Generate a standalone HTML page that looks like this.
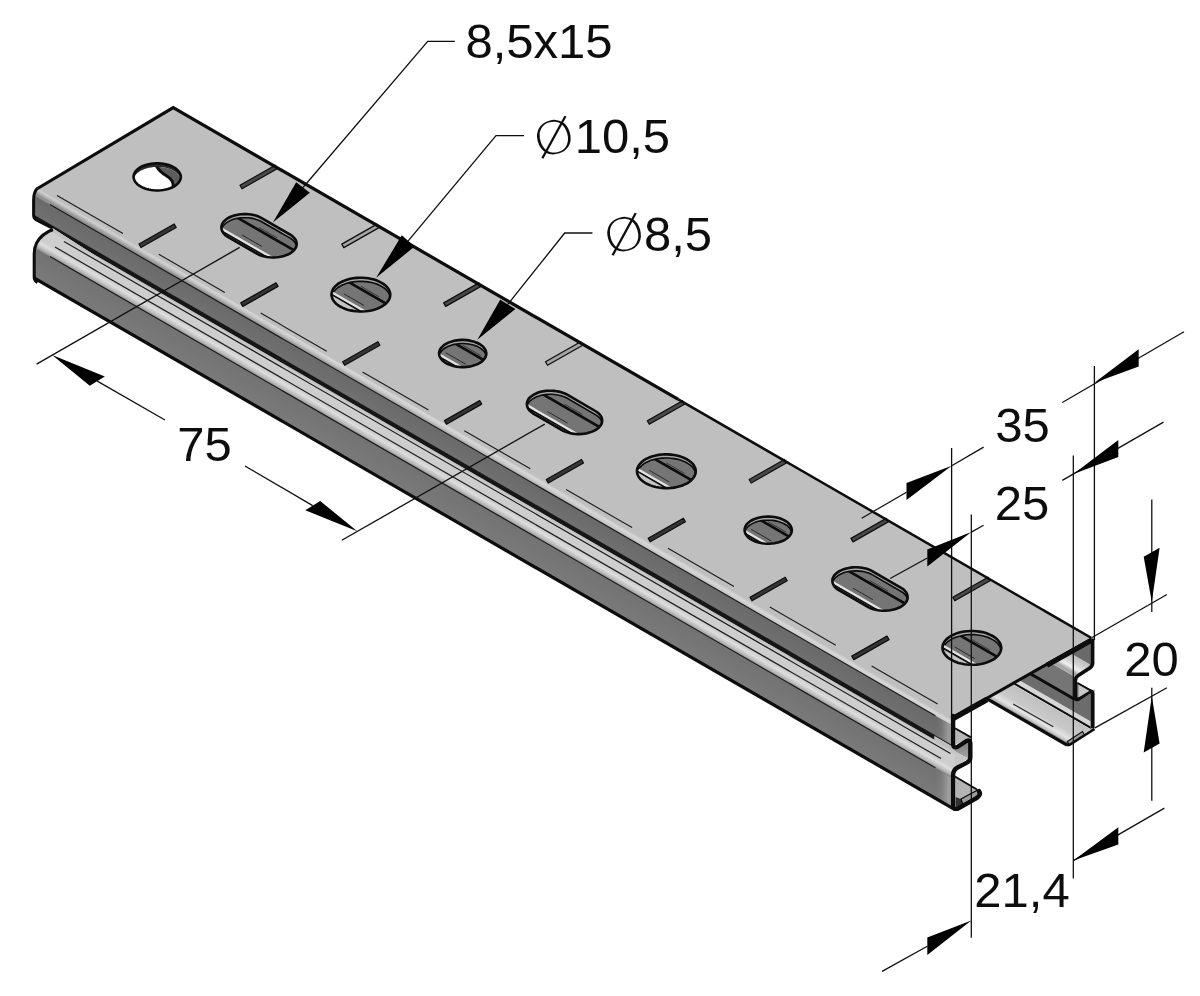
<!DOCTYPE html>
<html lang="de"><head><meta charset="utf-8"><title>Profilschiene 35x20</title>
<style>
html,body{margin:0;padding:0;background:#fff}
svg{display:block}
text{font-family:"Liberation Sans",sans-serif;fill:#111}
.dia{font-family:"DejaVu Sans","Liberation Sans",sans-serif;font-weight:200}
</style></head><body>
<svg width="1200" height="996" viewBox="0 0 1200 996">
<defs>
<filter id="soft" x="0" y="0" width="1200" height="996" filterUnits="userSpaceOnUse"><feGaussianBlur stdDeviation="0.55"/></filter>
<linearGradient id="glip" gradientUnits="userSpaceOnUse" x1="1091" y1="729.5" x2="1079.1" y2="750.2"><stop offset="0" stop-color="#c0c0c0"/><stop offset="0.55" stop-color="#c9c9c9"/><stop offset="0.8" stop-color="#e4e4e4"/><stop offset="0.93" stop-color="#c4c4c4"/><stop offset="1" stop-color="#8a8a8a"/></linearGradient>
<linearGradient id="gfl" gradientUnits="userSpaceOnUse" x1="1091" y1="665" x2="1083.4" y2="678.2"><stop offset="0" stop-color="#bdbdbd"/><stop offset="0.45" stop-color="#d4d4d4"/><stop offset="0.75" stop-color="#f0f0f0"/><stop offset="1" stop-color="#a8a8a8"/></linearGradient>
<clipPath id="cf"><path d="M37 188 C34.5 191 33.2 195 33.2 200 L33.2 215 C33.2 217.5 34.5 218.7 36 219.5 L50 226.6 L52 229.7 C46 232 40 236 36 243 C34.2 246.5 33.6 250 33.6 254 L33.6 277 C33.6 279.5 34.8 281 36.5 282 L952 810.8 L955 810.8 L955 714.8 Z"/></clipPath>
<linearGradient id="g1" gradientUnits="userSpaceOnUse" x1="400" y1="396.1" x2="395.2" y2="404.3"><stop offset="0" stop-color="#bfbfbf"/><stop offset="0.3" stop-color="#d8d8d8"/><stop offset="0.6" stop-color="#c8c8c8"/><stop offset="1" stop-color="#909090"/></linearGradient>
<linearGradient id="g2" gradientUnits="userSpaceOnUse" x1="400" y1="406.6" x2="391.3" y2="421.6"><stop offset="0" stop-color="#6a6a6a"/><stop offset="1" stop-color="#707070"/></linearGradient>
<linearGradient id="g3" gradientUnits="userSpaceOnUse" x1="400" y1="431.1" x2="392.9" y2="443.4"><stop offset="0" stop-color="#bdbdbd"/><stop offset="0.2" stop-color="#cfcfcf"/><stop offset="1" stop-color="#cdcdcd"/></linearGradient>
<linearGradient id="g4" gradientUnits="userSpaceOnUse" x1="400" y1="447.1" x2="394.8" y2="456.1"><stop offset="0" stop-color="#cbcbcb"/><stop offset="0.35" stop-color="#dedede"/><stop offset="0.7" stop-color="#bdbdbd"/><stop offset="1" stop-color="#8a8a8a"/></linearGradient>
<linearGradient id="g5" gradientUnits="userSpaceOnUse" x1="400" y1="458.6" x2="386.8" y2="481.4"><stop offset="0" stop-color="#727272"/><stop offset="1" stop-color="#7a7a7a"/></linearGradient>
<linearGradient id="geh" gradientUnits="userSpaceOnUse" x1="936" y1="0" x2="953" y2="0"><stop offset="0" stop-color="#b8b8b8" stop-opacity="0"/><stop offset="0.3" stop-color="#b8b8b8" stop-opacity="0.1"/><stop offset="0.7" stop-color="#b8b8b8" stop-opacity="0.55"/><stop offset="1" stop-color="#b4b4b4" stop-opacity="0.8"/></linearGradient>
<clipPath id="ho0"><path d="M173.9 186.6 L175.6 185.5 L177 184.4 L178.2 183.1 L179.2 181.8 L180 180.5 L180.5 179.1 L180.8 177.7 L180.8 176.3 L180.5 174.8 L180 173.5 L179.2 172.1 L178.2 170.8 L177 169.6 L175.5 168.4 L173.9 167.3 L172.1 166.4 L170.1 165.5 L167.9 164.8 L165.7 164.2 L163.3 163.8 L160.9 163.5 L158.4 163.3 L156 163.3 L153.5 163.5 L151.1 163.8 L148.7 164.2 L146.5 164.8 L144.3 165.5 L142.3 166.3 L140.5 167.2 L138.8 168.3 L137.4 169.4 L136.2 170.7 L135.2 172 L134.4 173.3 L133.9 174.7 L133.6 176.1 L133.6 177.5 L133.9 179 L134.4 180.3 L135.2 181.7 L136.2 183 L137.4 184.2 L138.9 185.4 L140.5 186.5 L142.3 187.4 L144.3 188.3 L146.5 189 L148.7 189.6 L151.1 190 L153.5 190.3 L156 190.5 L158.4 190.5 L160.9 190.3 L163.3 190 L165.7 189.6 L167.9 189 L170.1 188.3 L172.1 187.5Z"/></clipPath>
<clipPath id="hi0"><path d="M173.9 190.2 L175.6 189.1 L177 188 L178.2 186.7 L179.2 185.4 L180 184.1 L180.5 182.7 L180.8 181.3 L180.8 179.9 L180.5 178.4 L180 177.1 L179.2 175.7 L178.2 174.4 L177 173.2 L175.5 172 L173.9 170.9 L172.1 170 L170.1 169.1 L167.9 168.4 L165.7 167.8 L163.3 167.4 L160.9 167.1 L158.4 166.9 L156 166.9 L153.5 167.1 L151.1 167.4 L148.7 167.8 L146.5 168.4 L144.3 169.1 L142.3 169.9 L140.5 170.8 L138.8 171.9 L137.4 173 L136.2 174.3 L135.2 175.6 L134.4 176.9 L133.9 178.3 L133.6 179.7 L133.6 181.1 L133.9 182.6 L134.4 183.9 L135.2 185.3 L136.2 186.6 L137.4 187.8 L138.9 189 L140.5 190.1 L142.3 191 L144.3 191.9 L146.5 192.6 L148.7 193.2 L151.1 193.6 L153.5 193.9 L156 194.1 L158.4 194.1 L160.9 193.9 L163.3 193.6 L165.7 193.2 L167.9 192.6 L170.1 191.9 L172.1 191.1Z"/></clipPath>
<clipPath id="ho1"><path d="M256.4 253.4 L258.2 254.4 L260.2 255.2 L262.4 256 L264.6 256.5 L267 257 L269.4 257.3 L271.9 257.5 L274.3 257.5 L276.8 257.3 L279.2 257 L281.6 256.6 L283.8 256 L285.9 255.3 L287.9 254.5 L289.8 253.6 L291.4 252.5 L292.9 251.4 L294.1 250.1 L295.1 248.8 L295.9 247.5 L296.4 246.1 L296.7 244.7 L296.7 243.3 L296.4 241.8 L295.9 240.4 L295.1 239.1 L294.1 237.8 L292.9 236.6 L291.4 235.4 L289.8 234.3 L261.7 218.1 L259.8 217.1 L257.8 216.3 L255.7 215.6 L253.4 215 L251.1 214.5 L248.7 214.2 L246.2 214.1 L243.7 214.1 L241.3 214.2 L238.9 214.5 L236.5 214.9 L234.3 215.5 L232.1 216.2 L230.1 217 L228.3 218 L226.6 219 L225.2 220.2 L223.9 221.4 L222.9 222.7 L222.2 224.1 L221.7 225.4 L221.4 226.9 L221.4 228.3 L221.7 229.7 L222.2 231.1 L222.9 232.4 L223.9 233.7 L225.2 235 L226.6 236.1 L228.3 237.2Z"/></clipPath>
<clipPath id="hi1"><path d="M256.4 257 L258.2 258 L260.2 258.8 L262.4 259.6 L264.6 260.1 L267 260.6 L269.4 260.9 L271.9 261.1 L274.3 261.1 L276.8 260.9 L279.2 260.6 L281.6 260.2 L283.8 259.6 L285.9 258.9 L287.9 258.1 L289.8 257.2 L291.4 256.1 L292.9 255 L294.1 253.7 L295.1 252.4 L295.9 251.1 L296.4 249.7 L296.7 248.3 L296.7 246.9 L296.4 245.4 L295.9 244 L295.1 242.7 L294.1 241.4 L292.9 240.2 L291.4 239 L289.8 237.9 L261.7 221.7 L259.8 220.7 L257.8 219.9 L255.7 219.2 L253.4 218.6 L251.1 218.1 L248.7 217.8 L246.2 217.7 L243.7 217.7 L241.3 217.8 L238.9 218.1 L236.5 218.5 L234.3 219.1 L232.1 219.8 L230.1 220.6 L228.3 221.6 L226.6 222.6 L225.2 223.8 L223.9 225 L222.9 226.3 L222.2 227.7 L221.7 229 L221.4 230.5 L221.4 231.9 L221.7 233.3 L222.2 234.7 L222.9 236 L223.9 237.3 L225.2 238.6 L226.6 239.7 L228.3 240.8Z"/></clipPath>
<clipPath id="ho2"><path d="M381.6 306.7 L383.7 305.3 L385.5 303.9 L387 302.4 L388.3 300.8 L389.2 299.1 L389.9 297.4 L390.2 295.6 L390.2 293.8 L389.9 292.1 L389.2 290.4 L388.3 288.7 L387 287.1 L385.5 285.5 L383.7 284.1 L381.6 282.8 L379.3 281.6 L376.8 280.5 L374.2 279.6 L371.4 278.9 L368.4 278.3 L365.4 278 L362.4 277.8 L359.3 277.8 L356.3 277.9 L353.2 278.3 L350.3 278.8 L347.5 279.5 L344.9 280.4 L342.4 281.5 L340.1 282.6 L338 283.9 L336.2 285.4 L334.7 286.9 L333.4 288.5 L332.5 290.2 L331.9 291.9 L331.5 293.7 L331.5 295.4 L331.9 297.2 L332.5 298.9 L333.4 300.6 L334.7 302.2 L336.2 303.8 L338 305.2 L340.1 306.5 L342.4 307.7 L344.9 308.8 L347.5 309.7 L350.3 310.4 L353.3 310.9 L356.3 311.3 L359.3 311.5 L362.4 311.5 L365.5 311.3 L368.5 311 L371.4 310.4 L374.2 309.7 L376.9 308.9 L379.3 307.8Z"/></clipPath>
<clipPath id="hi2"><path d="M381.6 310.3 L383.7 308.9 L385.5 307.5 L387 306 L388.3 304.4 L389.2 302.7 L389.9 301 L390.2 299.2 L390.2 297.4 L389.9 295.7 L389.2 294 L388.3 292.3 L387 290.7 L385.5 289.1 L383.7 287.7 L381.6 286.4 L379.3 285.2 L376.8 284.1 L374.2 283.2 L371.4 282.5 L368.4 281.9 L365.4 281.6 L362.4 281.4 L359.3 281.4 L356.3 281.5 L353.2 281.9 L350.3 282.4 L347.5 283.1 L344.9 284 L342.4 285.1 L340.1 286.2 L338 287.5 L336.2 289 L334.7 290.5 L333.4 292.1 L332.5 293.8 L331.9 295.5 L331.5 297.3 L331.5 299 L331.9 300.8 L332.5 302.5 L333.4 304.2 L334.7 305.8 L336.2 307.4 L338 308.8 L340.1 310.1 L342.4 311.3 L344.9 312.4 L347.5 313.3 L350.3 314 L353.3 314.5 L356.3 314.9 L359.3 315.1 L362.4 315.1 L365.5 314.9 L368.5 314.6 L371.4 314 L374.2 313.3 L376.9 312.5 L379.3 311.4Z"/></clipPath>
<clipPath id="ho3"><path d="M479.4 363.2 L481 362.1 L482.5 361 L483.7 359.7 L484.7 358.4 L485.5 357.1 L486 355.7 L486.3 354.3 L486.3 352.9 L486 351.5 L485.5 350.1 L484.7 348.7 L483.7 347.4 L482.5 346.2 L481 345 L479.4 344 L477.5 343 L475.5 342.2 L473.4 341.4 L471.1 340.9 L468.8 340.4 L466.4 340.1 L463.9 339.9 L461.4 339.9 L459 340.1 L456.6 340.4 L454.2 340.8 L452 341.4 L449.8 342.1 L447.8 342.9 L446 343.9 L444.3 344.9 L442.9 346.1 L441.7 347.3 L440.6 348.6 L439.9 349.9 L439.4 351.3 L439.1 352.7 L439.1 354.1 L439.4 355.6 L439.9 357 L440.7 358.3 L441.7 359.6 L442.9 360.8 L444.3 362 L446 363.1 L447.8 364 L449.8 364.9 L452 365.6 L454.2 366.2 L456.6 366.6 L459 366.9 L461.5 367.1 L463.9 367.1 L466.4 366.9 L468.8 366.6 L471.2 366.2 L473.4 365.6 L475.6 364.9 L477.6 364.1Z"/></clipPath>
<clipPath id="hi3"><path d="M479.4 366.8 L481 365.7 L482.5 364.6 L483.7 363.3 L484.7 362 L485.5 360.7 L486 359.3 L486.3 357.9 L486.3 356.5 L486 355.1 L485.5 353.7 L484.7 352.3 L483.7 351 L482.5 349.8 L481 348.6 L479.4 347.6 L477.5 346.6 L475.5 345.8 L473.4 345 L471.1 344.5 L468.8 344 L466.4 343.7 L463.9 343.5 L461.4 343.5 L459 343.7 L456.6 344 L454.2 344.4 L452 345 L449.8 345.7 L447.8 346.5 L446 347.5 L444.3 348.5 L442.9 349.7 L441.7 350.9 L440.6 352.2 L439.9 353.5 L439.4 354.9 L439.1 356.3 L439.1 357.7 L439.4 359.2 L439.9 360.6 L440.7 361.9 L441.7 363.2 L442.9 364.4 L444.3 365.6 L446 366.7 L447.8 367.6 L449.8 368.5 L452 369.2 L454.2 369.8 L456.6 370.2 L459 370.5 L461.5 370.7 L463.9 370.7 L466.4 370.5 L468.8 370.2 L471.2 369.8 L473.4 369.2 L475.6 368.5 L477.6 367.7Z"/></clipPath>
<clipPath id="ho4"><path d="M561.9 430.1 L563.7 431 L565.7 431.9 L567.9 432.6 L570.1 433.2 L572.5 433.6 L574.9 433.9 L577.3 434.1 L579.8 434.1 L582.3 433.9 L584.7 433.6 L587 433.2 L589.3 432.6 L591.4 431.9 L593.4 431.1 L595.3 430.2 L596.9 429.1 L598.4 428 L599.6 426.7 L600.6 425.4 L601.4 424.1 L601.9 422.7 L602.1 421.3 L602.1 419.9 L601.9 418.5 L601.4 417.1 L600.6 415.7 L599.6 414.4 L598.4 413.2 L596.9 412 L595.3 411 L567.2 394.7 L565.3 393.7 L563.3 392.9 L561.2 392.2 L558.9 391.6 L556.6 391.2 L554.2 390.9 L551.7 390.7 L549.2 390.7 L546.8 390.8 L544.3 391.1 L542 391.5 L539.7 392.1 L537.6 392.8 L535.6 393.7 L533.8 394.6 L532.1 395.7 L530.7 396.8 L529.4 398 L528.4 399.3 L527.7 400.7 L527.1 402.1 L526.9 403.5 L526.9 404.9 L527.2 406.3 L527.7 407.7 L528.4 409.1 L529.4 410.4 L530.7 411.6 L532.1 412.7 L533.8 413.8Z"/></clipPath>
<clipPath id="hi4"><path d="M561.9 433.7 L563.7 434.6 L565.7 435.5 L567.9 436.2 L570.1 436.8 L572.5 437.2 L574.9 437.5 L577.3 437.7 L579.8 437.7 L582.3 437.5 L584.7 437.2 L587 436.8 L589.3 436.2 L591.4 435.5 L593.4 434.7 L595.3 433.8 L596.9 432.7 L598.4 431.6 L599.6 430.3 L600.6 429 L601.4 427.7 L601.9 426.3 L602.1 424.9 L602.1 423.5 L601.9 422.1 L601.4 420.7 L600.6 419.3 L599.6 418 L598.4 416.8 L596.9 415.6 L595.3 414.6 L567.2 398.3 L565.3 397.3 L563.3 396.5 L561.2 395.8 L558.9 395.2 L556.6 394.8 L554.2 394.5 L551.7 394.3 L549.2 394.3 L546.8 394.4 L544.3 394.7 L542 395.1 L539.7 395.7 L537.6 396.4 L535.6 397.3 L533.8 398.2 L532.1 399.3 L530.7 400.4 L529.4 401.6 L528.4 402.9 L527.7 404.3 L527.1 405.7 L526.9 407.1 L526.9 408.5 L527.2 409.9 L527.7 411.3 L528.4 412.7 L529.4 414 L530.7 415.2 L532.1 416.3 L533.8 417.4Z"/></clipPath>
<clipPath id="ho5"><path d="M687.1 483.3 L689.2 482 L691 480.5 L692.5 479 L693.8 477.4 L694.7 475.7 L695.4 474 L695.7 472.2 L695.7 470.5 L695.4 468.7 L694.7 467 L693.8 465.3 L692.5 463.7 L691 462.1 L689.2 460.7 L687.1 459.4 L684.8 458.2 L682.3 457.1 L679.7 456.2 L676.9 455.5 L673.9 455 L670.9 454.6 L667.9 454.4 L664.8 454.4 L661.7 454.5 L658.7 454.9 L655.8 455.4 L653 456.2 L650.3 457 L647.9 458.1 L645.6 459.2 L643.5 460.5 L641.7 462 L640.2 463.5 L638.9 465.1 L638 466.8 L637.3 468.5 L637 470.3 L637 472 L637.3 473.8 L638 475.5 L638.9 477.2 L640.2 478.8 L641.7 480.4 L643.5 481.8 L645.6 483.1 L647.9 484.3 L650.4 485.4 L653 486.3 L655.8 487 L658.8 487.5 L661.8 487.9 L664.8 488.1 L667.9 488.1 L671 488 L674 487.6 L676.9 487.1 L679.7 486.3 L682.4 485.5 L684.8 484.4Z"/></clipPath>
<clipPath id="hi5"><path d="M687.1 486.9 L689.2 485.6 L691 484.1 L692.5 482.6 L693.8 481 L694.7 479.3 L695.4 477.6 L695.7 475.8 L695.7 474.1 L695.4 472.3 L694.7 470.6 L693.8 468.9 L692.5 467.3 L691 465.7 L689.2 464.3 L687.1 463 L684.8 461.8 L682.3 460.7 L679.7 459.8 L676.9 459.1 L673.9 458.6 L670.9 458.2 L667.9 458 L664.8 458 L661.7 458.1 L658.7 458.5 L655.8 459 L653 459.8 L650.3 460.6 L647.9 461.7 L645.6 462.8 L643.5 464.1 L641.7 465.6 L640.2 467.1 L638.9 468.7 L638 470.4 L637.3 472.1 L637 473.9 L637 475.6 L637.3 477.4 L638 479.1 L638.9 480.8 L640.2 482.4 L641.7 484 L643.5 485.4 L645.6 486.7 L647.9 487.9 L650.4 489 L653 489.9 L655.8 490.6 L658.8 491.1 L661.8 491.5 L664.8 491.7 L667.9 491.7 L671 491.6 L674 491.2 L676.9 490.7 L679.7 489.9 L682.4 489.1 L684.8 488Z"/></clipPath>
<clipPath id="ho6"><path d="M784.9 539.8 L786.5 538.7 L788 537.6 L789.2 536.4 L790.2 535.1 L791 533.7 L791.5 532.3 L791.8 530.9 L791.8 529.5 L791.5 528.1 L791 526.7 L790.2 525.3 L789.2 524 L788 522.8 L786.5 521.6 L784.9 520.6 L783 519.6 L781 518.8 L778.9 518.1 L776.6 517.5 L774.3 517 L771.9 516.7 L769.4 516.6 L766.9 516.6 L764.5 516.7 L762.1 517 L759.7 517.4 L757.5 518 L755.3 518.7 L753.3 519.5 L751.5 520.5 L749.8 521.5 L748.4 522.7 L747.1 523.9 L746.1 525.2 L745.4 526.5 L744.9 527.9 L744.6 529.3 L744.6 530.8 L744.9 532.2 L745.4 533.6 L746.1 534.9 L747.1 536.2 L748.4 537.5 L749.8 538.6 L751.5 539.7 L753.3 540.6 L755.3 541.5 L757.5 542.2 L759.7 542.8 L762.1 543.2 L764.5 543.5 L767 543.7 L769.4 543.7 L771.9 543.5 L774.3 543.3 L776.6 542.8 L778.9 542.3 L781 541.6 L783 540.7Z"/></clipPath>
<clipPath id="hi6"><path d="M784.9 543.4 L786.5 542.3 L788 541.2 L789.2 540 L790.2 538.7 L791 537.3 L791.5 535.9 L791.8 534.5 L791.8 533.1 L791.5 531.7 L791 530.3 L790.2 528.9 L789.2 527.6 L788 526.4 L786.5 525.2 L784.9 524.2 L783 523.2 L781 522.4 L778.9 521.7 L776.6 521.1 L774.3 520.6 L771.9 520.3 L769.4 520.2 L766.9 520.2 L764.5 520.3 L762.1 520.6 L759.7 521 L757.5 521.6 L755.3 522.3 L753.3 523.1 L751.5 524.1 L749.8 525.1 L748.4 526.3 L747.1 527.5 L746.1 528.8 L745.4 530.1 L744.9 531.5 L744.6 532.9 L744.6 534.4 L744.9 535.8 L745.4 537.2 L746.1 538.5 L747.1 539.8 L748.4 541.1 L749.8 542.2 L751.5 543.3 L753.3 544.2 L755.3 545.1 L757.5 545.8 L759.7 546.4 L762.1 546.8 L764.5 547.1 L767 547.3 L769.4 547.3 L771.9 547.1 L774.3 546.9 L776.6 546.4 L778.9 545.9 L781 545.2 L783 544.3Z"/></clipPath>
<clipPath id="ho7"><path d="M867.4 606.7 L869.2 607.6 L871.2 608.5 L873.4 609.2 L875.6 609.8 L878 610.2 L880.4 610.5 L882.8 610.7 L885.3 610.7 L887.8 610.5 L890.2 610.3 L892.5 609.8 L894.8 609.2 L896.9 608.5 L898.9 607.7 L900.8 606.8 L902.4 605.7 L903.9 604.6 L905.1 603.3 L906.1 602 L906.9 600.7 L907.4 599.3 L907.6 597.9 L907.6 596.5 L907.4 595.1 L906.9 593.7 L906.1 592.3 L905.1 591 L903.9 589.8 L902.4 588.6 L900.7 587.6 L872.6 571.3 L870.8 570.4 L868.8 569.5 L866.7 568.8 L864.4 568.2 L862.1 567.8 L859.6 567.5 L857.2 567.3 L854.7 567.3 L852.3 567.4 L849.8 567.7 L847.5 568.2 L845.2 568.7 L843.1 569.4 L841.1 570.3 L839.3 571.2 L837.6 572.3 L836.2 573.4 L834.9 574.6 L833.9 575.9 L833.2 577.3 L832.6 578.7 L832.4 580.1 L832.4 581.5 L832.6 582.9 L833.2 584.3 L833.9 585.7 L834.9 587 L836.2 588.2 L837.6 589.4 L839.3 590.4Z"/></clipPath>
<clipPath id="hi7"><path d="M867.4 610.3 L869.2 611.2 L871.2 612.1 L873.4 612.8 L875.6 613.4 L878 613.8 L880.4 614.1 L882.8 614.3 L885.3 614.3 L887.8 614.1 L890.2 613.9 L892.5 613.4 L894.8 612.8 L896.9 612.1 L898.9 611.3 L900.8 610.4 L902.4 609.3 L903.9 608.2 L905.1 606.9 L906.1 605.6 L906.9 604.3 L907.4 602.9 L907.6 601.5 L907.6 600.1 L907.4 598.7 L906.9 597.3 L906.1 595.9 L905.1 594.6 L903.9 593.4 L902.4 592.2 L900.7 591.2 L872.6 574.9 L870.8 574 L868.8 573.1 L866.7 572.4 L864.4 571.8 L862.1 571.4 L859.6 571.1 L857.2 570.9 L854.7 570.9 L852.3 571 L849.8 571.3 L847.5 571.8 L845.2 572.3 L843.1 573 L841.1 573.9 L839.3 574.8 L837.6 575.9 L836.2 577 L834.9 578.2 L833.9 579.5 L833.2 580.9 L832.6 582.3 L832.4 583.7 L832.4 585.1 L832.6 586.5 L833.2 587.9 L833.9 589.3 L834.9 590.6 L836.2 591.8 L837.6 593 L839.3 594Z"/></clipPath>
<clipPath id="ho8"><path d="M992.6 659.9 L994.7 658.6 L996.5 657.1 L998 655.6 L999.3 654 L1000.2 652.3 L1000.8 650.6 L1001.2 648.8 L1001.2 647.1 L1000.8 645.3 L1000.2 643.6 L999.3 641.9 L998 640.3 L996.5 638.7 L994.7 637.3 L992.6 636 L990.3 634.8 L987.8 633.7 L985.2 632.8 L982.4 632.1 L979.4 631.6 L976.4 631.2 L973.4 631 L970.3 631 L967.2 631.2 L964.2 631.5 L961.3 632.1 L958.5 632.8 L955.8 633.6 L953.4 634.7 L951.1 635.8 L949 637.2 L947.2 638.6 L945.7 640.1 L944.4 641.7 L943.5 643.4 L942.8 645.1 L942.5 646.9 L942.5 648.7 L942.8 650.4 L943.5 652.1 L944.4 653.8 L945.7 655.4 L947.2 657 L949 658.4 L951.1 659.7 L953.4 660.9 L955.9 662 L958.5 662.9 L961.3 663.6 L964.3 664.2 L967.3 664.5 L970.3 664.7 L973.4 664.7 L976.4 664.6 L979.5 664.2 L982.4 663.7 L985.2 663 L987.8 662.1 L990.3 661Z"/></clipPath>
<clipPath id="hi8"><path d="M992.6 663.5 L994.7 662.2 L996.5 660.7 L998 659.2 L999.3 657.6 L1000.2 655.9 L1000.8 654.2 L1001.2 652.4 L1001.2 650.7 L1000.8 648.9 L1000.2 647.2 L999.3 645.5 L998 643.9 L996.5 642.3 L994.7 640.9 L992.6 639.6 L990.3 638.4 L987.8 637.3 L985.2 636.4 L982.4 635.7 L979.4 635.2 L976.4 634.8 L973.4 634.6 L970.3 634.6 L967.2 634.8 L964.2 635.1 L961.3 635.7 L958.5 636.4 L955.8 637.2 L953.4 638.3 L951.1 639.4 L949 640.8 L947.2 642.2 L945.7 643.7 L944.4 645.3 L943.5 647 L942.8 648.7 L942.5 650.5 L942.5 652.3 L942.8 654 L943.5 655.7 L944.4 657.4 L945.7 659 L947.2 660.6 L949 662 L951.1 663.3 L953.4 664.5 L955.9 665.6 L958.5 666.5 L961.3 667.2 L964.3 667.8 L967.3 668.1 L970.3 668.3 L973.4 668.3 L976.4 668.2 L979.5 667.8 L982.4 667.3 L985.2 666.6 L987.8 665.7 L990.3 664.6Z"/></clipPath>
<linearGradient id="gw" x1="0" y1="0" x2="0" y2="1"><stop offset="0" stop-color="#7c7c7c"/><stop offset="1" stop-color="#a6a6a6"/></linearGradient>
</defs>
<rect width="1200" height="996" fill="#fff"/>
<g filter="url(#soft)">
<polygon points="1091,690 1091,729 951,648.2 951,609.2" fill="#6c6c6c" />
<polygon points="1091,729.5 1067.5,743.5 927.5,662.7 951,648.7" fill="url(#glip)" />
<polygon points="1091,721.5 1091,727.5 951,646.7 951,640.7" fill="#d6d6d6" />
<line x1="1091" y1="727.8" x2="951" y2="647" stroke="#111" stroke-width="2"/>
<line x1="1053.3" y1="726.7" x2="1013.1" y2="704.1" stroke="#222" stroke-width="1.1"/>
<polygon points="1075.3,677 1075.3,699 935.3,618.2 935.3,596.2" fill="#757575" />
<polygon points="1091,665 1075.3,677 935.3,596.2 951,584.2" fill="url(#gfl)" />
<polygon points="1091,640 1091,665 951,584.2 951,559.2" fill="#6b6b6b" />
<line x1="1075" y1="699.5" x2="935" y2="618.7" stroke="#0c0c0c" stroke-width="3"/>
<line x1="1067" y1="745" x2="927" y2="664.2" stroke="#0c0c0c" stroke-width="3.2"/>
<polygon points="1067.3,741.5 1082.5,731.5 1084.5,735 1069.5,744.8" fill="#9a9a9a" stroke="#111" stroke-width="1.2"/>
<polygon points="1090.6,691 1094.6,689.5 1094.6,728.5 1090.6,730.5" fill="#8a8a8a"/>
<path d="M1092.6 638.5 L1092.6 663 Q1092.6 666.5 1089 668.6 L1079 675 Q1075.3 677 1075.3 681 L1075.3 696.5 Q1075.3 700.5 1078.5 699 L1089 692 Q1092.6 690 1092.6 694 L1092.6 728" fill="none" stroke="#0a0a0a" stroke-width="3.6" stroke-linejoin="round"/>
<path d="M1094.5 729 L1070 744.5 Q1066.5 746 1066 743" fill="none" stroke="#0a0a0a" stroke-width="2.6"/>
<polygon points="1078.5,684 1090,690.5 1078.5,697.5" fill="#c8c8c8"/>
<line x1="1077.5" y1="683" x2="1091" y2="690.6" stroke="#0a0a0a" stroke-width="2"/>
<g clip-path="url(#cf)">
<polygon points="30,182.4 956,717.1 956,728.1 30,193.4" fill="url(#g1)" />
<polygon points="30,192.9 956,727.6 956,747.6 30,212.9" fill="url(#g2)" />
<polygon points="95,250 934.5,734.7 934.5,740.2 95,255.5" fill="#141414" />
<polygon points="30,212.4 95,250 95,255.5 50,226.6 30,214.6" fill="#141414"/>
<polygon points="50,226.6 95,255.5 50,229.5" fill="#c4c4c4"/>
<polygon points="934,734.4 953,745.4 953,747 934,736" fill="#222" />
<polygon points="934.5,736.3 956,748.7 956,752.6 934.5,740.2" fill="#bdbdbd" />
<polygon points="30,217.4 956,752.1 956,768.6 30,233.9" fill="url(#g3)" />
<polygon points="30,233.4 956,768.1 956,780.1 30,245.4" fill="url(#g4)" />
<polygon points="30,244.9 956,779.6 956,810.1 30,275.4" fill="url(#g5)" />
<polygon points="30,273.7 956,808.4 956,812.1 30,277.4" fill="#0a0a0a" />
<line x1="50" y1="204.5" x2="935.4" y2="715.7" stroke="#1c1c1c" stroke-width="1.2"/>
<line x1="64" y1="241.6" x2="950.5" y2="753.4" stroke="#1c1c1c" stroke-width="1.2"/>
<line x1="55" y1="247.1" x2="941" y2="758.6" stroke="#1c1c1c" stroke-width="1.2"/>
<line x1="50" y1="256.6" x2="935.4" y2="767.8" stroke="#1c1c1c" stroke-width="1.2"/>
<polygon points="930,712.9 956,727.9 956,747.1 930,732.1" fill="url(#geh)" />
<polygon points="930,765.1 956,780.1 956,808.4 930,793.4" fill="url(#geh)" />
</g>
<path d="M37.5 188 C34.8 191 33.6 195 33.6 200 L33.6 215 C33.6 217.8 34.8 219 36.5 220 L52 228" fill="none" stroke="#0a0a0a" stroke-width="3"/>
<path d="M53 229.5 C46 232 40.5 236 36.6 243 C34.8 246.5 34.2 250 34.2 254 L34.2 277 C34.2 280 35.5 281.5 37.5 282.5" fill="none" stroke="#0a0a0a" stroke-width="3"/>
<polygon points="37,188.5 173.2,107.7 1091.5,638 952,716.5" fill="#bfbfbf"/>
<polygon points="240,185.2 275.2,165.2 277.2,168.7 242,188.7" fill="#4a4a4a" stroke="#101010" stroke-width="1.3" stroke-linejoin="round"/>
<polygon points="139,244 174.2,224 176.2,227.5 141,247.5" fill="#353535" stroke="#101010" stroke-width="1.3" stroke-linejoin="round"/>
<polygon points="341.8,244.1 377,224.1 379,227.6 343.8,247.6" fill="#a4a4a4" stroke="#101010" stroke-width="1.3" stroke-linejoin="round"/>
<polygon points="240.8,302.9 276,282.9 278,286.4 242.8,306.4" fill="#353535" stroke="#101010" stroke-width="1.3" stroke-linejoin="round"/>
<polygon points="443.7,302.9 478.9,282.9 480.9,286.4 445.7,306.4" fill="#4a4a4a" stroke="#101010" stroke-width="1.3" stroke-linejoin="round"/>
<polygon points="342.7,361.7 377.9,341.7 379.9,345.2 344.7,365.2" fill="#353535" stroke="#101010" stroke-width="1.3" stroke-linejoin="round"/>
<polygon points="545.5,361.8 580.7,341.8 582.7,345.3 547.5,365.3" fill="#a4a4a4" stroke="#101010" stroke-width="1.3" stroke-linejoin="round"/>
<polygon points="444.5,420.6 479.7,400.6 481.7,404.1 446.5,424.1" fill="#353535" stroke="#101010" stroke-width="1.3" stroke-linejoin="round"/>
<polygon points="647.3,420.7 682.5,400.7 684.5,404.2 649.3,424.2" fill="#4a4a4a" stroke="#101010" stroke-width="1.3" stroke-linejoin="round"/>
<polygon points="546.3,479.5 581.5,459.5 583.5,463 548.3,483" fill="#353535" stroke="#101010" stroke-width="1.3" stroke-linejoin="round"/>
<polygon points="749.2,479.5 784.4,459.5 786.4,463 751.2,483" fill="#4a4a4a" stroke="#101010" stroke-width="1.3" stroke-linejoin="round"/>
<polygon points="648.2,538.3 683.4,518.3 685.4,521.8 650.2,541.8" fill="#353535" stroke="#101010" stroke-width="1.3" stroke-linejoin="round"/>
<polygon points="851,538.4 886.2,518.4 888.2,521.9 853,541.9" fill="#4a4a4a" stroke="#101010" stroke-width="1.3" stroke-linejoin="round"/>
<polygon points="750,597.2 785.2,577.2 787.2,580.7 752,600.7" fill="#353535" stroke="#101010" stroke-width="1.3" stroke-linejoin="round"/>
<polygon points="952.8,597.3 988,577.3 990,580.8 954.8,600.8" fill="#4a4a4a" stroke="#101010" stroke-width="1.3" stroke-linejoin="round"/>
<polygon points="851.8,656.1 887,636.1 889,639.6 853.8,659.6" fill="#353535" stroke="#101010" stroke-width="1.3" stroke-linejoin="round"/>
<line x1="57" y1="195.5" x2="123" y2="233.6" stroke="#1c1c1c" stroke-width="1.1"/>
<line x1="158.8" y1="254.3" x2="224.8" y2="292.4" stroke="#1c1c1c" stroke-width="1.1"/>
<line x1="260.7" y1="313.1" x2="326.7" y2="351.2" stroke="#1c1c1c" stroke-width="1.1"/>
<line x1="362.5" y1="371.9" x2="428.5" y2="410" stroke="#1c1c1c" stroke-width="1.1"/>
<line x1="464.3" y1="430.7" x2="530.3" y2="468.8" stroke="#1c1c1c" stroke-width="1.1"/>
<line x1="566.1" y1="489.5" x2="632.1" y2="527.6" stroke="#1c1c1c" stroke-width="1.1"/>
<line x1="668" y1="548.3" x2="734" y2="586.4" stroke="#1c1c1c" stroke-width="1.1"/>
<line x1="769.8" y1="607.1" x2="835.8" y2="645.2" stroke="#1c1c1c" stroke-width="1.1"/>
<line x1="871.6" y1="665.9" x2="937.6" y2="704" stroke="#1c1c1c" stroke-width="1.1"/>
<path d="M173.9 186.6 L175.6 185.5 L177 184.4 L178.2 183.1 L179.2 181.8 L180 180.5 L180.5 179.1 L180.8 177.7 L180.8 176.3 L180.5 174.8 L180 173.5 L179.2 172.1 L178.2 170.8 L177 169.6 L175.5 168.4 L173.9 167.3 L172.1 166.4 L170.1 165.5 L167.9 164.8 L165.7 164.2 L163.3 163.8 L160.9 163.5 L158.4 163.3 L156 163.3 L153.5 163.5 L151.1 163.8 L148.7 164.2 L146.5 164.8 L144.3 165.5 L142.3 166.3 L140.5 167.2 L138.8 168.3 L137.4 169.4 L136.2 170.7 L135.2 172 L134.4 173.3 L133.9 174.7 L133.6 176.1 L133.6 177.5 L133.9 179 L134.4 180.3 L135.2 181.7 L136.2 183 L137.4 184.2 L138.9 185.4 L140.5 186.5 L142.3 187.4 L144.3 188.3 L146.5 189 L148.7 189.6 L151.1 190 L153.5 190.3 L156 190.5 L158.4 190.5 L160.9 190.3 L163.3 190 L165.7 189.6 L167.9 189 L170.1 188.3 L172.1 187.5Z" fill="#2a2a2a"/>
<g clip-path="url(#ho0)"><g clip-path="url(#hi0)">
<rect x="120" y="150" width="80" height="60" fill="#fff"/>
<path d="M154 160 C156 168 160 172 166 175.5 C172 179 174 182 173 190 L190 190 L190 160 Z" fill="#5c5c5c" stroke="#111" stroke-width="3"/>
</g></g>
<path d="M173.9 186.6 L175.6 185.5 L177 184.4 L178.2 183.1 L179.2 181.8 L180 180.5 L180.5 179.1 L180.8 177.7 L180.8 176.3 L180.5 174.8 L180 173.5 L179.2 172.1 L178.2 170.8 L177 169.6 L175.5 168.4 L173.9 167.3 L172.1 166.4 L170.1 165.5 L167.9 164.8 L165.7 164.2 L163.3 163.8 L160.9 163.5 L158.4 163.3 L156 163.3 L153.5 163.5 L151.1 163.8 L148.7 164.2 L146.5 164.8 L144.3 165.5 L142.3 166.3 L140.5 167.2 L138.8 168.3 L137.4 169.4 L136.2 170.7 L135.2 172 L134.4 173.3 L133.9 174.7 L133.6 176.1 L133.6 177.5 L133.9 179 L134.4 180.3 L135.2 181.7 L136.2 183 L137.4 184.2 L138.9 185.4 L140.5 186.5 L142.3 187.4 L144.3 188.3 L146.5 189 L148.7 189.6 L151.1 190 L153.5 190.3 L156 190.5 L158.4 190.5 L160.9 190.3 L163.3 190 L165.7 189.6 L167.9 189 L170.1 188.3 L172.1 187.5Z" fill="none" stroke="#0a0a0a" stroke-width="2.6"/>
<path d="M256.4 253.4 L258.2 254.4 L260.2 255.2 L262.4 256 L264.6 256.5 L267 257 L269.4 257.3 L271.9 257.5 L274.3 257.5 L276.8 257.3 L279.2 257 L281.6 256.6 L283.8 256 L285.9 255.3 L287.9 254.5 L289.8 253.6 L291.4 252.5 L292.9 251.4 L294.1 250.1 L295.1 248.8 L295.9 247.5 L296.4 246.1 L296.7 244.7 L296.7 243.3 L296.4 241.8 L295.9 240.4 L295.1 239.1 L294.1 237.8 L292.9 236.6 L291.4 235.4 L289.8 234.3 L261.7 218.1 L259.8 217.1 L257.8 216.3 L255.7 215.6 L253.4 215 L251.1 214.5 L248.7 214.2 L246.2 214.1 L243.7 214.1 L241.3 214.2 L238.9 214.5 L236.5 214.9 L234.3 215.5 L232.1 216.2 L230.1 217 L228.3 218 L226.6 219 L225.2 220.2 L223.9 221.4 L222.9 222.7 L222.2 224.1 L221.7 225.4 L221.4 226.9 L221.4 228.3 L221.7 229.7 L222.2 231.1 L222.9 232.4 L223.9 233.7 L225.2 235 L226.6 236.1 L228.3 237.2Z" fill="#a8a8a8"/>
<g clip-path="url(#ho1)">
<path d="M256.4 257 L258.2 258 L260.2 258.8 L262.4 259.6 L264.6 260.1 L267 260.6 L269.4 260.9 L271.9 261.1 L274.3 261.1 L276.8 260.9 L279.2 260.6 L281.6 260.2 L283.8 259.6 L285.9 258.9 L287.9 258.1 L289.8 257.2 L291.4 256.1 L292.9 255 L294.1 253.7 L295.1 252.4 L295.9 251.1 L296.4 249.7 L296.7 248.3 L296.7 246.9 L296.4 245.4 L295.9 244 L295.1 242.7 L294.1 241.4 L292.9 240.2 L291.4 239 L289.8 237.9 L261.7 221.7 L259.8 220.7 L257.8 219.9 L255.7 219.2 L253.4 218.6 L251.1 218.1 L248.7 217.8 L246.2 217.7 L243.7 217.7 L241.3 217.8 L238.9 218.1 L236.5 218.5 L234.3 219.1 L232.1 219.8 L230.1 220.6 L228.3 221.6 L226.6 222.6 L225.2 223.8 L223.9 225 L222.9 226.3 L222.2 227.7 L221.7 229 L221.4 230.5 L221.4 231.9 L221.7 233.3 L222.2 234.7 L222.9 236 L223.9 237.3 L225.2 238.6 L226.6 239.7 L228.3 240.8Z" fill="#747474" stroke="#0a0a0a" stroke-width="1.6"/>
<g clip-path="url(#hi1)">
<polygon points="209,223.4 309,281.1 309,315.8 209,315.8" fill="#c4c4c4"/>
<line x1="209" y1="221.5" x2="309" y2="279.2" stroke="#e2e2e2" stroke-width="2.6"/>
<line x1="209" y1="223.7" x2="309" y2="281.4" stroke="#0a0a0a" stroke-width="1.6"/>
<line x1="209" y1="201.3" x2="309" y2="259" stroke="#0a0a0a" stroke-width="2.6"/>
<line x1="242" y1="235" x2="262" y2="246.5" stroke="#2a2a2a" stroke-width="1.0"/>
<line x1="259" y1="227.5" x2="277" y2="237.9" stroke="#3a3a3a" stroke-width="1.0"/>
</g></g>
<path d="M256.4 253.4 L258.2 254.4 L260.2 255.2 L262.4 256 L264.6 256.5 L267 257 L269.4 257.3 L271.9 257.5 L274.3 257.5 L276.8 257.3 L279.2 257 L281.6 256.6 L283.8 256 L285.9 255.3 L287.9 254.5 L289.8 253.6 L291.4 252.5 L292.9 251.4 L294.1 250.1 L295.1 248.8 L295.9 247.5 L296.4 246.1 L296.7 244.7 L296.7 243.3 L296.4 241.8 L295.9 240.4 L295.1 239.1 L294.1 237.8 L292.9 236.6 L291.4 235.4 L289.8 234.3 L261.7 218.1 L259.8 217.1 L257.8 216.3 L255.7 215.6 L253.4 215 L251.1 214.5 L248.7 214.2 L246.2 214.1 L243.7 214.1 L241.3 214.2 L238.9 214.5 L236.5 214.9 L234.3 215.5 L232.1 216.2 L230.1 217 L228.3 218 L226.6 219 L225.2 220.2 L223.9 221.4 L222.9 222.7 L222.2 224.1 L221.7 225.4 L221.4 226.9 L221.4 228.3 L221.7 229.7 L222.2 231.1 L222.9 232.4 L223.9 233.7 L225.2 235 L226.6 236.1 L228.3 237.2Z" fill="none" stroke="#0a0a0a" stroke-width="2.6"/>
<path d="M381.6 306.7 L383.7 305.3 L385.5 303.9 L387 302.4 L388.3 300.8 L389.2 299.1 L389.9 297.4 L390.2 295.6 L390.2 293.8 L389.9 292.1 L389.2 290.4 L388.3 288.7 L387 287.1 L385.5 285.5 L383.7 284.1 L381.6 282.8 L379.3 281.6 L376.8 280.5 L374.2 279.6 L371.4 278.9 L368.4 278.3 L365.4 278 L362.4 277.8 L359.3 277.8 L356.3 277.9 L353.2 278.3 L350.3 278.8 L347.5 279.5 L344.9 280.4 L342.4 281.5 L340.1 282.6 L338 283.9 L336.2 285.4 L334.7 286.9 L333.4 288.5 L332.5 290.2 L331.9 291.9 L331.5 293.7 L331.5 295.4 L331.9 297.2 L332.5 298.9 L333.4 300.6 L334.7 302.2 L336.2 303.8 L338 305.2 L340.1 306.5 L342.4 307.7 L344.9 308.8 L347.5 309.7 L350.3 310.4 L353.3 310.9 L356.3 311.3 L359.3 311.5 L362.4 311.5 L365.5 311.3 L368.5 311 L371.4 310.4 L374.2 309.7 L376.9 308.9 L379.3 307.8Z" fill="#a8a8a8"/>
<g clip-path="url(#ho2)">
<path d="M381.6 310.3 L383.7 308.9 L385.5 307.5 L387 306 L388.3 304.4 L389.2 302.7 L389.9 301 L390.2 299.2 L390.2 297.4 L389.9 295.7 L389.2 294 L388.3 292.3 L387 290.7 L385.5 289.1 L383.7 287.7 L381.6 286.4 L379.3 285.2 L376.8 284.1 L374.2 283.2 L371.4 282.5 L368.4 281.9 L365.4 281.6 L362.4 281.4 L359.3 281.4 L356.3 281.5 L353.2 281.9 L350.3 282.4 L347.5 283.1 L344.9 284 L342.4 285.1 L340.1 286.2 L338 287.5 L336.2 289 L334.7 290.5 L333.4 292.1 L332.5 293.8 L331.9 295.5 L331.5 297.3 L331.5 299 L331.9 300.8 L332.5 302.5 L333.4 304.2 L334.7 305.8 L336.2 307.4 L338 308.8 L340.1 310.1 L342.4 311.3 L344.9 312.4 L347.5 313.3 L350.3 314 L353.3 314.5 L356.3 314.9 L359.3 315.1 L362.4 315.1 L365.5 314.9 L368.5 314.6 L371.4 314 L374.2 313.3 L376.9 312.5 L379.3 311.4Z" fill="#747474" stroke="#0a0a0a" stroke-width="1.6"/>
<g clip-path="url(#hi2)">
<polygon points="310.9,282.3 410.9,340 410.9,374.6 310.9,374.6" fill="#c4c4c4"/>
<line x1="310.9" y1="280.4" x2="410.9" y2="338.1" stroke="#e2e2e2" stroke-width="2.6"/>
<line x1="310.9" y1="282.6" x2="410.9" y2="340.3" stroke="#0a0a0a" stroke-width="1.6"/>
<line x1="310.9" y1="260.2" x2="410.9" y2="317.9" stroke="#0a0a0a" stroke-width="2.6"/>
<line x1="343.9" y1="293.8" x2="363.9" y2="305.4" stroke="#2a2a2a" stroke-width="1.0"/>
<line x1="360.9" y1="286.3" x2="378.9" y2="296.7" stroke="#3a3a3a" stroke-width="1.0"/>
</g></g>
<path d="M381.6 306.7 L383.7 305.3 L385.5 303.9 L387 302.4 L388.3 300.8 L389.2 299.1 L389.9 297.4 L390.2 295.6 L390.2 293.8 L389.9 292.1 L389.2 290.4 L388.3 288.7 L387 287.1 L385.5 285.5 L383.7 284.1 L381.6 282.8 L379.3 281.6 L376.8 280.5 L374.2 279.6 L371.4 278.9 L368.4 278.3 L365.4 278 L362.4 277.8 L359.3 277.8 L356.3 277.9 L353.2 278.3 L350.3 278.8 L347.5 279.5 L344.9 280.4 L342.4 281.5 L340.1 282.6 L338 283.9 L336.2 285.4 L334.7 286.9 L333.4 288.5 L332.5 290.2 L331.9 291.9 L331.5 293.7 L331.5 295.4 L331.9 297.2 L332.5 298.9 L333.4 300.6 L334.7 302.2 L336.2 303.8 L338 305.2 L340.1 306.5 L342.4 307.7 L344.9 308.8 L347.5 309.7 L350.3 310.4 L353.3 310.9 L356.3 311.3 L359.3 311.5 L362.4 311.5 L365.5 311.3 L368.5 311 L371.4 310.4 L374.2 309.7 L376.9 308.9 L379.3 307.8Z" fill="none" stroke="#0a0a0a" stroke-width="2.6"/>
<path d="M479.4 363.2 L481 362.1 L482.5 361 L483.7 359.7 L484.7 358.4 L485.5 357.1 L486 355.7 L486.3 354.3 L486.3 352.9 L486 351.5 L485.5 350.1 L484.7 348.7 L483.7 347.4 L482.5 346.2 L481 345 L479.4 344 L477.5 343 L475.5 342.2 L473.4 341.4 L471.1 340.9 L468.8 340.4 L466.4 340.1 L463.9 339.9 L461.4 339.9 L459 340.1 L456.6 340.4 L454.2 340.8 L452 341.4 L449.8 342.1 L447.8 342.9 L446 343.9 L444.3 344.9 L442.9 346.1 L441.7 347.3 L440.6 348.6 L439.9 349.9 L439.4 351.3 L439.1 352.7 L439.1 354.1 L439.4 355.6 L439.9 357 L440.7 358.3 L441.7 359.6 L442.9 360.8 L444.3 362 L446 363.1 L447.8 364 L449.8 364.9 L452 365.6 L454.2 366.2 L456.6 366.6 L459 366.9 L461.5 367.1 L463.9 367.1 L466.4 366.9 L468.8 366.6 L471.2 366.2 L473.4 365.6 L475.6 364.9 L477.6 364.1Z" fill="#a8a8a8"/>
<g clip-path="url(#ho3)">
<path d="M479.4 366.8 L481 365.7 L482.5 364.6 L483.7 363.3 L484.7 362 L485.5 360.7 L486 359.3 L486.3 357.9 L486.3 356.5 L486 355.1 L485.5 353.7 L484.7 352.3 L483.7 351 L482.5 349.8 L481 348.6 L479.4 347.6 L477.5 346.6 L475.5 345.8 L473.4 345 L471.1 344.5 L468.8 344 L466.4 343.7 L463.9 343.5 L461.4 343.5 L459 343.7 L456.6 344 L454.2 344.4 L452 345 L449.8 345.7 L447.8 346.5 L446 347.5 L444.3 348.5 L442.9 349.7 L441.7 350.9 L440.6 352.2 L439.9 353.5 L439.4 354.9 L439.1 356.3 L439.1 357.7 L439.4 359.2 L439.9 360.6 L440.7 361.9 L441.7 363.2 L442.9 364.4 L444.3 365.6 L446 366.7 L447.8 367.6 L449.8 368.5 L452 369.2 L454.2 369.8 L456.6 370.2 L459 370.5 L461.5 370.7 L463.9 370.7 L466.4 370.5 L468.8 370.2 L471.2 369.8 L473.4 369.2 L475.6 368.5 L477.6 367.7Z" fill="#747474" stroke="#0a0a0a" stroke-width="1.6"/>
<g clip-path="url(#hi3)">
<polygon points="412.7,341.1 512.7,398.9 512.7,433.5 412.7,433.5" fill="#c4c4c4"/>
<line x1="412.7" y1="339.2" x2="512.7" y2="397" stroke="#e2e2e2" stroke-width="2.6"/>
<line x1="412.7" y1="341.4" x2="512.7" y2="399.2" stroke="#0a0a0a" stroke-width="1.6"/>
<line x1="412.7" y1="319" x2="512.7" y2="376.8" stroke="#0a0a0a" stroke-width="2.6"/>
<line x1="445.7" y1="352.7" x2="465.7" y2="364.2" stroke="#2a2a2a" stroke-width="1.0"/>
<line x1="462.7" y1="345.2" x2="480.7" y2="355.6" stroke="#3a3a3a" stroke-width="1.0"/>
</g></g>
<path d="M479.4 363.2 L481 362.1 L482.5 361 L483.7 359.7 L484.7 358.4 L485.5 357.1 L486 355.7 L486.3 354.3 L486.3 352.9 L486 351.5 L485.5 350.1 L484.7 348.7 L483.7 347.4 L482.5 346.2 L481 345 L479.4 344 L477.5 343 L475.5 342.2 L473.4 341.4 L471.1 340.9 L468.8 340.4 L466.4 340.1 L463.9 339.9 L461.4 339.9 L459 340.1 L456.6 340.4 L454.2 340.8 L452 341.4 L449.8 342.1 L447.8 342.9 L446 343.9 L444.3 344.9 L442.9 346.1 L441.7 347.3 L440.6 348.6 L439.9 349.9 L439.4 351.3 L439.1 352.7 L439.1 354.1 L439.4 355.6 L439.9 357 L440.7 358.3 L441.7 359.6 L442.9 360.8 L444.3 362 L446 363.1 L447.8 364 L449.8 364.9 L452 365.6 L454.2 366.2 L456.6 366.6 L459 366.9 L461.5 367.1 L463.9 367.1 L466.4 366.9 L468.8 366.6 L471.2 366.2 L473.4 365.6 L475.6 364.9 L477.6 364.1Z" fill="none" stroke="#0a0a0a" stroke-width="2.6"/>
<path d="M561.9 430.1 L563.7 431 L565.7 431.9 L567.9 432.6 L570.1 433.2 L572.5 433.6 L574.9 433.9 L577.3 434.1 L579.8 434.1 L582.3 433.9 L584.7 433.6 L587 433.2 L589.3 432.6 L591.4 431.9 L593.4 431.1 L595.3 430.2 L596.9 429.1 L598.4 428 L599.6 426.7 L600.6 425.4 L601.4 424.1 L601.9 422.7 L602.1 421.3 L602.1 419.9 L601.9 418.5 L601.4 417.1 L600.6 415.7 L599.6 414.4 L598.4 413.2 L596.9 412 L595.3 411 L567.2 394.7 L565.3 393.7 L563.3 392.9 L561.2 392.2 L558.9 391.6 L556.6 391.2 L554.2 390.9 L551.7 390.7 L549.2 390.7 L546.8 390.8 L544.3 391.1 L542 391.5 L539.7 392.1 L537.6 392.8 L535.6 393.7 L533.8 394.6 L532.1 395.7 L530.7 396.8 L529.4 398 L528.4 399.3 L527.7 400.7 L527.1 402.1 L526.9 403.5 L526.9 404.9 L527.2 406.3 L527.7 407.7 L528.4 409.1 L529.4 410.4 L530.7 411.6 L532.1 412.7 L533.8 413.8Z" fill="#a8a8a8"/>
<g clip-path="url(#ho4)">
<path d="M561.9 433.7 L563.7 434.6 L565.7 435.5 L567.9 436.2 L570.1 436.8 L572.5 437.2 L574.9 437.5 L577.3 437.7 L579.8 437.7 L582.3 437.5 L584.7 437.2 L587 436.8 L589.3 436.2 L591.4 435.5 L593.4 434.7 L595.3 433.8 L596.9 432.7 L598.4 431.6 L599.6 430.3 L600.6 429 L601.4 427.7 L601.9 426.3 L602.1 424.9 L602.1 423.5 L601.9 422.1 L601.4 420.7 L600.6 419.3 L599.6 418 L598.4 416.8 L596.9 415.6 L595.3 414.6 L567.2 398.3 L565.3 397.3 L563.3 396.5 L561.2 395.8 L558.9 395.2 L556.6 394.8 L554.2 394.5 L551.7 394.3 L549.2 394.3 L546.8 394.4 L544.3 394.7 L542 395.1 L539.7 395.7 L537.6 396.4 L535.6 397.3 L533.8 398.2 L532.1 399.3 L530.7 400.4 L529.4 401.6 L528.4 402.9 L527.7 404.3 L527.1 405.7 L526.9 407.1 L526.9 408.5 L527.2 409.9 L527.7 411.3 L528.4 412.7 L529.4 414 L530.7 415.2 L532.1 416.3 L533.8 417.4Z" fill="#747474" stroke="#0a0a0a" stroke-width="1.6"/>
<g clip-path="url(#hi4)">
<polygon points="514.5,400 614.5,457.8 614.5,492.4 514.5,492.4" fill="#c4c4c4"/>
<line x1="514.5" y1="398.1" x2="614.5" y2="455.9" stroke="#e2e2e2" stroke-width="2.6"/>
<line x1="514.5" y1="400.3" x2="614.5" y2="458.1" stroke="#0a0a0a" stroke-width="1.6"/>
<line x1="514.5" y1="377.9" x2="614.5" y2="435.6" stroke="#0a0a0a" stroke-width="2.6"/>
<line x1="547.5" y1="411.6" x2="567.5" y2="423.1" stroke="#2a2a2a" stroke-width="1.0"/>
<line x1="564.5" y1="404.1" x2="582.5" y2="414.5" stroke="#3a3a3a" stroke-width="1.0"/>
</g></g>
<path d="M561.9 430.1 L563.7 431 L565.7 431.9 L567.9 432.6 L570.1 433.2 L572.5 433.6 L574.9 433.9 L577.3 434.1 L579.8 434.1 L582.3 433.9 L584.7 433.6 L587 433.2 L589.3 432.6 L591.4 431.9 L593.4 431.1 L595.3 430.2 L596.9 429.1 L598.4 428 L599.6 426.7 L600.6 425.4 L601.4 424.1 L601.9 422.7 L602.1 421.3 L602.1 419.9 L601.9 418.5 L601.4 417.1 L600.6 415.7 L599.6 414.4 L598.4 413.2 L596.9 412 L595.3 411 L567.2 394.7 L565.3 393.7 L563.3 392.9 L561.2 392.2 L558.9 391.6 L556.6 391.2 L554.2 390.9 L551.7 390.7 L549.2 390.7 L546.8 390.8 L544.3 391.1 L542 391.5 L539.7 392.1 L537.6 392.8 L535.6 393.7 L533.8 394.6 L532.1 395.7 L530.7 396.8 L529.4 398 L528.4 399.3 L527.7 400.7 L527.1 402.1 L526.9 403.5 L526.9 404.9 L527.2 406.3 L527.7 407.7 L528.4 409.1 L529.4 410.4 L530.7 411.6 L532.1 412.7 L533.8 413.8Z" fill="none" stroke="#0a0a0a" stroke-width="2.6"/>
<path d="M687.1 483.3 L689.2 482 L691 480.5 L692.5 479 L693.8 477.4 L694.7 475.7 L695.4 474 L695.7 472.2 L695.7 470.5 L695.4 468.7 L694.7 467 L693.8 465.3 L692.5 463.7 L691 462.1 L689.2 460.7 L687.1 459.4 L684.8 458.2 L682.3 457.1 L679.7 456.2 L676.9 455.5 L673.9 455 L670.9 454.6 L667.9 454.4 L664.8 454.4 L661.7 454.5 L658.7 454.9 L655.8 455.4 L653 456.2 L650.3 457 L647.9 458.1 L645.6 459.2 L643.5 460.5 L641.7 462 L640.2 463.5 L638.9 465.1 L638 466.8 L637.3 468.5 L637 470.3 L637 472 L637.3 473.8 L638 475.5 L638.9 477.2 L640.2 478.8 L641.7 480.4 L643.5 481.8 L645.6 483.1 L647.9 484.3 L650.4 485.4 L653 486.3 L655.8 487 L658.8 487.5 L661.8 487.9 L664.8 488.1 L667.9 488.1 L671 488 L674 487.6 L676.9 487.1 L679.7 486.3 L682.4 485.5 L684.8 484.4Z" fill="#a8a8a8"/>
<g clip-path="url(#ho5)">
<path d="M687.1 486.9 L689.2 485.6 L691 484.1 L692.5 482.6 L693.8 481 L694.7 479.3 L695.4 477.6 L695.7 475.8 L695.7 474.1 L695.4 472.3 L694.7 470.6 L693.8 468.9 L692.5 467.3 L691 465.7 L689.2 464.3 L687.1 463 L684.8 461.8 L682.3 460.7 L679.7 459.8 L676.9 459.1 L673.9 458.6 L670.9 458.2 L667.9 458 L664.8 458 L661.7 458.1 L658.7 458.5 L655.8 459 L653 459.8 L650.3 460.6 L647.9 461.7 L645.6 462.8 L643.5 464.1 L641.7 465.6 L640.2 467.1 L638.9 468.7 L638 470.4 L637.3 472.1 L637 473.9 L637 475.6 L637.3 477.4 L638 479.1 L638.9 480.8 L640.2 482.4 L641.7 484 L643.5 485.4 L645.6 486.7 L647.9 487.9 L650.4 489 L653 489.9 L655.8 490.6 L658.8 491.1 L661.8 491.5 L664.8 491.7 L667.9 491.7 L671 491.6 L674 491.2 L676.9 490.7 L679.7 489.9 L682.4 489.1 L684.8 488Z" fill="#747474" stroke="#0a0a0a" stroke-width="1.6"/>
<g clip-path="url(#hi5)">
<polygon points="616.3,458.9 716.3,516.6 716.3,551.2 616.3,551.2" fill="#c4c4c4"/>
<line x1="616.3" y1="457" x2="716.3" y2="514.7" stroke="#e2e2e2" stroke-width="2.6"/>
<line x1="616.3" y1="459.2" x2="716.3" y2="516.9" stroke="#0a0a0a" stroke-width="1.6"/>
<line x1="616.3" y1="436.8" x2="716.3" y2="494.5" stroke="#0a0a0a" stroke-width="2.6"/>
<line x1="649.3" y1="470.4" x2="669.3" y2="482" stroke="#2a2a2a" stroke-width="1.0"/>
<line x1="666.3" y1="462.9" x2="684.3" y2="473.3" stroke="#3a3a3a" stroke-width="1.0"/>
</g></g>
<path d="M687.1 483.3 L689.2 482 L691 480.5 L692.5 479 L693.8 477.4 L694.7 475.7 L695.4 474 L695.7 472.2 L695.7 470.5 L695.4 468.7 L694.7 467 L693.8 465.3 L692.5 463.7 L691 462.1 L689.2 460.7 L687.1 459.4 L684.8 458.2 L682.3 457.1 L679.7 456.2 L676.9 455.5 L673.9 455 L670.9 454.6 L667.9 454.4 L664.8 454.4 L661.7 454.5 L658.7 454.9 L655.8 455.4 L653 456.2 L650.3 457 L647.9 458.1 L645.6 459.2 L643.5 460.5 L641.7 462 L640.2 463.5 L638.9 465.1 L638 466.8 L637.3 468.5 L637 470.3 L637 472 L637.3 473.8 L638 475.5 L638.9 477.2 L640.2 478.8 L641.7 480.4 L643.5 481.8 L645.6 483.1 L647.9 484.3 L650.4 485.4 L653 486.3 L655.8 487 L658.8 487.5 L661.8 487.9 L664.8 488.1 L667.9 488.1 L671 488 L674 487.6 L676.9 487.1 L679.7 486.3 L682.4 485.5 L684.8 484.4Z" fill="none" stroke="#0a0a0a" stroke-width="2.6"/>
<path d="M784.9 539.8 L786.5 538.7 L788 537.6 L789.2 536.4 L790.2 535.1 L791 533.7 L791.5 532.3 L791.8 530.9 L791.8 529.5 L791.5 528.1 L791 526.7 L790.2 525.3 L789.2 524 L788 522.8 L786.5 521.6 L784.9 520.6 L783 519.6 L781 518.8 L778.9 518.1 L776.6 517.5 L774.3 517 L771.9 516.7 L769.4 516.6 L766.9 516.6 L764.5 516.7 L762.1 517 L759.7 517.4 L757.5 518 L755.3 518.7 L753.3 519.5 L751.5 520.5 L749.8 521.5 L748.4 522.7 L747.1 523.9 L746.1 525.2 L745.4 526.5 L744.9 527.9 L744.6 529.3 L744.6 530.8 L744.9 532.2 L745.4 533.6 L746.1 534.9 L747.1 536.2 L748.4 537.5 L749.8 538.6 L751.5 539.7 L753.3 540.6 L755.3 541.5 L757.5 542.2 L759.7 542.8 L762.1 543.2 L764.5 543.5 L767 543.7 L769.4 543.7 L771.9 543.5 L774.3 543.3 L776.6 542.8 L778.9 542.3 L781 541.6 L783 540.7Z" fill="#a8a8a8"/>
<g clip-path="url(#ho6)">
<path d="M784.9 543.4 L786.5 542.3 L788 541.2 L789.2 540 L790.2 538.7 L791 537.3 L791.5 535.9 L791.8 534.5 L791.8 533.1 L791.5 531.7 L791 530.3 L790.2 528.9 L789.2 527.6 L788 526.4 L786.5 525.2 L784.9 524.2 L783 523.2 L781 522.4 L778.9 521.7 L776.6 521.1 L774.3 520.6 L771.9 520.3 L769.4 520.2 L766.9 520.2 L764.5 520.3 L762.1 520.6 L759.7 521 L757.5 521.6 L755.3 522.3 L753.3 523.1 L751.5 524.1 L749.8 525.1 L748.4 526.3 L747.1 527.5 L746.1 528.8 L745.4 530.1 L744.9 531.5 L744.6 532.9 L744.6 534.4 L744.9 535.8 L745.4 537.2 L746.1 538.5 L747.1 539.8 L748.4 541.1 L749.8 542.2 L751.5 543.3 L753.3 544.2 L755.3 545.1 L757.5 545.8 L759.7 546.4 L762.1 546.8 L764.5 547.1 L767 547.3 L769.4 547.3 L771.9 547.1 L774.3 546.9 L776.6 546.4 L778.9 545.9 L781 545.2 L783 544.3Z" fill="#747474" stroke="#0a0a0a" stroke-width="1.6"/>
<g clip-path="url(#hi6)">
<polygon points="718.2,517.8 818.2,575.5 818.2,610.1 718.2,610.1" fill="#c4c4c4"/>
<line x1="718.2" y1="515.9" x2="818.2" y2="573.6" stroke="#e2e2e2" stroke-width="2.6"/>
<line x1="718.2" y1="518" x2="818.2" y2="575.8" stroke="#0a0a0a" stroke-width="1.6"/>
<line x1="718.2" y1="495.6" x2="818.2" y2="553.4" stroke="#0a0a0a" stroke-width="2.6"/>
<line x1="751.2" y1="529.3" x2="771.2" y2="540.9" stroke="#2a2a2a" stroke-width="1.0"/>
<line x1="768.2" y1="521.8" x2="786.2" y2="532.2" stroke="#3a3a3a" stroke-width="1.0"/>
</g></g>
<path d="M784.9 539.8 L786.5 538.7 L788 537.6 L789.2 536.4 L790.2 535.1 L791 533.7 L791.5 532.3 L791.8 530.9 L791.8 529.5 L791.5 528.1 L791 526.7 L790.2 525.3 L789.2 524 L788 522.8 L786.5 521.6 L784.9 520.6 L783 519.6 L781 518.8 L778.9 518.1 L776.6 517.5 L774.3 517 L771.9 516.7 L769.4 516.6 L766.9 516.6 L764.5 516.7 L762.1 517 L759.7 517.4 L757.5 518 L755.3 518.7 L753.3 519.5 L751.5 520.5 L749.8 521.5 L748.4 522.7 L747.1 523.9 L746.1 525.2 L745.4 526.5 L744.9 527.9 L744.6 529.3 L744.6 530.8 L744.9 532.2 L745.4 533.6 L746.1 534.9 L747.1 536.2 L748.4 537.5 L749.8 538.6 L751.5 539.7 L753.3 540.6 L755.3 541.5 L757.5 542.2 L759.7 542.8 L762.1 543.2 L764.5 543.5 L767 543.7 L769.4 543.7 L771.9 543.5 L774.3 543.3 L776.6 542.8 L778.9 542.3 L781 541.6 L783 540.7Z" fill="none" stroke="#0a0a0a" stroke-width="2.6"/>
<path d="M867.4 606.7 L869.2 607.6 L871.2 608.5 L873.4 609.2 L875.6 609.8 L878 610.2 L880.4 610.5 L882.8 610.7 L885.3 610.7 L887.8 610.5 L890.2 610.3 L892.5 609.8 L894.8 609.2 L896.9 608.5 L898.9 607.7 L900.8 606.8 L902.4 605.7 L903.9 604.6 L905.1 603.3 L906.1 602 L906.9 600.7 L907.4 599.3 L907.6 597.9 L907.6 596.5 L907.4 595.1 L906.9 593.7 L906.1 592.3 L905.1 591 L903.9 589.8 L902.4 588.6 L900.7 587.6 L872.6 571.3 L870.8 570.4 L868.8 569.5 L866.7 568.8 L864.4 568.2 L862.1 567.8 L859.6 567.5 L857.2 567.3 L854.7 567.3 L852.3 567.4 L849.8 567.7 L847.5 568.2 L845.2 568.7 L843.1 569.4 L841.1 570.3 L839.3 571.2 L837.6 572.3 L836.2 573.4 L834.9 574.6 L833.9 575.9 L833.2 577.3 L832.6 578.7 L832.4 580.1 L832.4 581.5 L832.6 582.9 L833.2 584.3 L833.9 585.7 L834.9 587 L836.2 588.2 L837.6 589.4 L839.3 590.4Z" fill="#a8a8a8"/>
<g clip-path="url(#ho7)">
<path d="M867.4 610.3 L869.2 611.2 L871.2 612.1 L873.4 612.8 L875.6 613.4 L878 613.8 L880.4 614.1 L882.8 614.3 L885.3 614.3 L887.8 614.1 L890.2 613.9 L892.5 613.4 L894.8 612.8 L896.9 612.1 L898.9 611.3 L900.8 610.4 L902.4 609.3 L903.9 608.2 L905.1 606.9 L906.1 605.6 L906.9 604.3 L907.4 602.9 L907.6 601.5 L907.6 600.1 L907.4 598.7 L906.9 597.3 L906.1 595.9 L905.1 594.6 L903.9 593.4 L902.4 592.2 L900.7 591.2 L872.6 574.9 L870.8 574 L868.8 573.1 L866.7 572.4 L864.4 571.8 L862.1 571.4 L859.6 571.1 L857.2 570.9 L854.7 570.9 L852.3 571 L849.8 571.3 L847.5 571.8 L845.2 572.3 L843.1 573 L841.1 573.9 L839.3 574.8 L837.6 575.9 L836.2 577 L834.9 578.2 L833.9 579.5 L833.2 580.9 L832.6 582.3 L832.4 583.7 L832.4 585.1 L832.6 586.5 L833.2 587.9 L833.9 589.3 L834.9 590.6 L836.2 591.8 L837.6 593 L839.3 594Z" fill="#747474" stroke="#0a0a0a" stroke-width="1.6"/>
<g clip-path="url(#hi7)">
<polygon points="820,576.6 920,634.4 920,669 820,669" fill="#c4c4c4"/>
<line x1="820" y1="574.7" x2="920" y2="632.5" stroke="#e2e2e2" stroke-width="2.6"/>
<line x1="820" y1="576.9" x2="920" y2="634.7" stroke="#0a0a0a" stroke-width="1.6"/>
<line x1="820" y1="554.5" x2="920" y2="612.3" stroke="#0a0a0a" stroke-width="2.6"/>
<line x1="853" y1="588.2" x2="873" y2="599.7" stroke="#2a2a2a" stroke-width="1.0"/>
<line x1="870" y1="580.7" x2="888" y2="591.1" stroke="#3a3a3a" stroke-width="1.0"/>
</g></g>
<path d="M867.4 606.7 L869.2 607.6 L871.2 608.5 L873.4 609.2 L875.6 609.8 L878 610.2 L880.4 610.5 L882.8 610.7 L885.3 610.7 L887.8 610.5 L890.2 610.3 L892.5 609.8 L894.8 609.2 L896.9 608.5 L898.9 607.7 L900.8 606.8 L902.4 605.7 L903.9 604.6 L905.1 603.3 L906.1 602 L906.9 600.7 L907.4 599.3 L907.6 597.9 L907.6 596.5 L907.4 595.1 L906.9 593.7 L906.1 592.3 L905.1 591 L903.9 589.8 L902.4 588.6 L900.7 587.6 L872.6 571.3 L870.8 570.4 L868.8 569.5 L866.7 568.8 L864.4 568.2 L862.1 567.8 L859.6 567.5 L857.2 567.3 L854.7 567.3 L852.3 567.4 L849.8 567.7 L847.5 568.2 L845.2 568.7 L843.1 569.4 L841.1 570.3 L839.3 571.2 L837.6 572.3 L836.2 573.4 L834.9 574.6 L833.9 575.9 L833.2 577.3 L832.6 578.7 L832.4 580.1 L832.4 581.5 L832.6 582.9 L833.2 584.3 L833.9 585.7 L834.9 587 L836.2 588.2 L837.6 589.4 L839.3 590.4Z" fill="none" stroke="#0a0a0a" stroke-width="2.6"/>
<path d="M992.6 659.9 L994.7 658.6 L996.5 657.1 L998 655.6 L999.3 654 L1000.2 652.3 L1000.8 650.6 L1001.2 648.8 L1001.2 647.1 L1000.8 645.3 L1000.2 643.6 L999.3 641.9 L998 640.3 L996.5 638.7 L994.7 637.3 L992.6 636 L990.3 634.8 L987.8 633.7 L985.2 632.8 L982.4 632.1 L979.4 631.6 L976.4 631.2 L973.4 631 L970.3 631 L967.2 631.2 L964.2 631.5 L961.3 632.1 L958.5 632.8 L955.8 633.6 L953.4 634.7 L951.1 635.8 L949 637.2 L947.2 638.6 L945.7 640.1 L944.4 641.7 L943.5 643.4 L942.8 645.1 L942.5 646.9 L942.5 648.7 L942.8 650.4 L943.5 652.1 L944.4 653.8 L945.7 655.4 L947.2 657 L949 658.4 L951.1 659.7 L953.4 660.9 L955.9 662 L958.5 662.9 L961.3 663.6 L964.3 664.2 L967.3 664.5 L970.3 664.7 L973.4 664.7 L976.4 664.6 L979.5 664.2 L982.4 663.7 L985.2 663 L987.8 662.1 L990.3 661Z" fill="#a8a8a8"/>
<g clip-path="url(#ho8)">
<path d="M992.6 663.5 L994.7 662.2 L996.5 660.7 L998 659.2 L999.3 657.6 L1000.2 655.9 L1000.8 654.2 L1001.2 652.4 L1001.2 650.7 L1000.8 648.9 L1000.2 647.2 L999.3 645.5 L998 643.9 L996.5 642.3 L994.7 640.9 L992.6 639.6 L990.3 638.4 L987.8 637.3 L985.2 636.4 L982.4 635.7 L979.4 635.2 L976.4 634.8 L973.4 634.6 L970.3 634.6 L967.2 634.8 L964.2 635.1 L961.3 635.7 L958.5 636.4 L955.8 637.2 L953.4 638.3 L951.1 639.4 L949 640.8 L947.2 642.2 L945.7 643.7 L944.4 645.3 L943.5 647 L942.8 648.7 L942.5 650.5 L942.5 652.3 L942.8 654 L943.5 655.7 L944.4 657.4 L945.7 659 L947.2 660.6 L949 662 L951.1 663.3 L953.4 664.5 L955.9 665.6 L958.5 666.5 L961.3 667.2 L964.3 667.8 L967.3 668.1 L970.3 668.3 L973.4 668.3 L976.4 668.2 L979.5 667.8 L982.4 667.3 L985.2 666.6 L987.8 665.7 L990.3 664.6Z" fill="#747474" stroke="#0a0a0a" stroke-width="1.6"/>
<g clip-path="url(#hi8)">
<polygon points="921.8,635.5 1021.8,693.2 1021.8,727.9 921.8,727.9" fill="#c4c4c4"/>
<line x1="921.8" y1="633.6" x2="1021.8" y2="691.3" stroke="#e2e2e2" stroke-width="2.6"/>
<line x1="921.8" y1="635.8" x2="1021.8" y2="693.5" stroke="#0a0a0a" stroke-width="1.6"/>
<line x1="921.8" y1="613.4" x2="1021.8" y2="671.1" stroke="#0a0a0a" stroke-width="2.6"/>
<line x1="954.8" y1="647" x2="974.8" y2="658.6" stroke="#2a2a2a" stroke-width="1.0"/>
<line x1="971.8" y1="639.6" x2="989.8" y2="650" stroke="#3a3a3a" stroke-width="1.0"/>
</g></g>
<path d="M992.6 659.9 L994.7 658.6 L996.5 657.1 L998 655.6 L999.3 654 L1000.2 652.3 L1000.8 650.6 L1001.2 648.8 L1001.2 647.1 L1000.8 645.3 L1000.2 643.6 L999.3 641.9 L998 640.3 L996.5 638.7 L994.7 637.3 L992.6 636 L990.3 634.8 L987.8 633.7 L985.2 632.8 L982.4 632.1 L979.4 631.6 L976.4 631.2 L973.4 631 L970.3 631 L967.2 631.2 L964.2 631.5 L961.3 632.1 L958.5 632.8 L955.8 633.6 L953.4 634.7 L951.1 635.8 L949 637.2 L947.2 638.6 L945.7 640.1 L944.4 641.7 L943.5 643.4 L942.8 645.1 L942.5 646.9 L942.5 648.7 L942.8 650.4 L943.5 652.1 L944.4 653.8 L945.7 655.4 L947.2 657 L949 658.4 L951.1 659.7 L953.4 660.9 L955.9 662 L958.5 662.9 L961.3 663.6 L964.3 664.2 L967.3 664.5 L970.3 664.7 L973.4 664.7 L976.4 664.6 L979.5 664.2 L982.4 663.7 L985.2 663 L987.8 662.1 L990.3 661Z" fill="none" stroke="#0a0a0a" stroke-width="2.6"/>
<polyline points="37.5,188.5 173.2,107.7 678.3,399.4" fill="none" stroke="#0a0a0a" stroke-width="3.2" stroke-linejoin="miter"/>
<polyline points="678.3,399.4 1091.5,638" fill="none" stroke="#0a0a0a" stroke-width="2.5"/>
<line x1="1091.5" y1="639" x2="952" y2="718" stroke="#0a0a0a" stroke-width="3"/>
<line x1="952" y1="719.1" x2="986.9" y2="699.5" stroke="#0a0a0a" stroke-width="5.6"/>
<line x1="1046.9" y1="665.3" x2="1091.5" y2="640.2" stroke="#0a0a0a" stroke-width="5.0"/>
<polygon points="955,748.5 968.5,741 968.5,758.8 955,751.5" fill="url(#gw)"/>
<polygon points="955,751.3 968.5,758.6 955,766.5" fill="#c6c6c6"/>
<polygon points="955.5,728.6 970.8,737.3 955.5,744.5" fill="#b8b8b8"/>
<line x1="955" y1="728.3" x2="971" y2="737.4" stroke="#0a0a0a" stroke-width="1.8"/>
<polygon points="955.5,777 976.4,789.4 961,799 955.5,797.4" fill="#b4b4b4"/>
<polygon points="955.5,797 961,799 963,804.5 957,808 955.5,806" fill="#333"/>
<line x1="955" y1="776.6" x2="977" y2="789.6" stroke="#0a0a0a" stroke-width="1.8"/>
<polygon points="961,799 977.2,790.2 979.2,795 962.8,804.5" fill="#9c9c9c" stroke="#0a0a0a" stroke-width="1.3"/>
<path d="M953.1 716 L953.1 743.5 Q953.1 748.5 957.2 747 L966.5 741 Q970.3 739 970.3 743 L970.3 757.5 Q970.3 761 967 762.6 L957.5 767.5 Q953.1 770 953.1 775 L953.1 805 Q953.3 810 958 808.6 L977 797.8 Q981.5 794.5 979 791" fill="none" stroke="#0a0a0a" stroke-width="4.4" stroke-linejoin="round" stroke-linecap="round"/>
<polyline points="454.8,41.4 427.7,41.4 303,187.5" fill="none" stroke="#111" stroke-width="1.3"/>
<polygon points="272.9,222.4 296.2,182.3 309.8,192.7" fill="#000"/>
<polyline points="524,135.6 496,135.6 408.2,240.9" fill="none" stroke="#111" stroke-width="1.3"/>
<polygon points="376.1,277.8 401.8,235.3 414.6,246.5" fill="#000"/>
<polyline points="592.4,233 564.7,233 507.8,304.3" fill="none" stroke="#111" stroke-width="1.3"/>
<polygon points="477.3,339.8 500.2,299.7 515.4,308.9" fill="#000"/>
<text x="465.5" y="58.4" font-size="49" text-anchor="start">8,5x15</text>
<text class="dia" font-size="45.3" transform="translate(553.9 136.5) rotate(-16) scale(1.175 1) translate(-17.9 17)">Ø</text><text x="574.7" y="153.3" font-size="49">10,5</text>
<text class="dia" font-size="45.3" transform="translate(624 233.5) rotate(-16) scale(1.175 1) translate(-17.9 17)">Ø</text><text x="644" y="250.6" font-size="49">8,5</text>
<line x1="239.7" y1="247.4" x2="36.6" y2="364.1" stroke="#111" stroke-width="1.3"/>
<line x1="544.8" y1="424.1" x2="341.8" y2="540.3" stroke="#111" stroke-width="1.3"/>
<line x1="97.3" y1="381.1" x2="165" y2="420" stroke="#111" stroke-width="1.3"/>
<polygon points="52.1,355.1 104.8,376.4 89.8,385.7" fill="#000"/>
<line x1="245" y1="466" x2="312.7" y2="505.6" stroke="#111" stroke-width="1.3"/>
<polygon points="357.3,531.3 320.2,501 305.3,510.2" fill="#000"/>
<text x="177.2" y="461" font-size="49" text-anchor="start">75</text>
<line x1="951.6" y1="447.9" x2="951.6" y2="718" stroke="#111" stroke-width="1.3"/>
<line x1="1094.4" y1="366" x2="1094.4" y2="640" stroke="#111" stroke-width="1.3"/>
<line x1="861.7" y1="518.3" x2="906.5" y2="492.3" stroke="#111" stroke-width="1.3"/>
<line x1="951.7" y1="465.8" x2="983.6" y2="447.1" stroke="#111" stroke-width="1.3"/>
<polygon points="951.7,465.8 906.5,482.9 906.5,500" fill="#000"/>
<line x1="1062.3" y1="402.5" x2="1184" y2="331.7" stroke="#111" stroke-width="1.3"/>
<polygon points="1094.4,382.7 1138.7,349.3 1138.7,366.5" fill="#000"/>
<text x="995.3" y="442" font-size="49" text-anchor="start">35</text>
<line x1="971.3" y1="514.5" x2="971.3" y2="937.8" stroke="#111" stroke-width="1.3"/>
<line x1="1073.3" y1="455.6" x2="1073.3" y2="878.5" stroke="#111" stroke-width="1.3"/>
<line x1="890.2" y1="578.5" x2="927.3" y2="558" stroke="#111" stroke-width="1.3"/>
<line x1="971.3" y1="532.1" x2="983.6" y2="525.3" stroke="#111" stroke-width="1.3"/>
<polygon points="971.3,532.1 927.3,549.5 927.3,566.6" fill="#000"/>
<line x1="1062.3" y1="480.4" x2="1163.5" y2="422.1" stroke="#111" stroke-width="1.3"/>
<polygon points="1073.4,474 1118.3,440 1118.3,457.1" fill="#000"/>
<text x="994.8" y="519.8" font-size="49" text-anchor="start">25</text>
<line x1="882.1" y1="971.4" x2="927.3" y2="946.2" stroke="#111" stroke-width="1.3"/>
<polygon points="971.3,920.4 927.3,937.6 927.3,954.9" fill="#000"/>
<line x1="1073.4" y1="860.6" x2="1164.4" y2="808.1" stroke="#111" stroke-width="1.3"/>
<polygon points="1073.4,860.6 1118.3,827.2 1118.3,844.4" fill="#000"/>
<text x="974.3" y="907.4" font-size="49" text-anchor="start">21,4</text>
<line x1="1092.1" y1="637.5" x2="1166.9" y2="594.5" stroke="#111" stroke-width="1.3"/>
<line x1="1095" y1="727.9" x2="1166.9" y2="687.8" stroke="#111" stroke-width="1.3"/>
<line x1="1151.8" y1="499.6" x2="1151.8" y2="612" stroke="#111" stroke-width="1.3"/>
<polygon points="1151.8,602 1143.7,556.8 1159.6,547.8" fill="#000"/>
<line x1="1151.8" y1="687.8" x2="1151.8" y2="800.8" stroke="#111" stroke-width="1.3"/>
<polygon points="1151.8,696.3 1143.7,752.6 1159.6,743.6" fill="#000"/>
<text x="1124.2" y="676.2" font-size="49" text-anchor="start">20</text>
</g>
</svg>
</body></html>
